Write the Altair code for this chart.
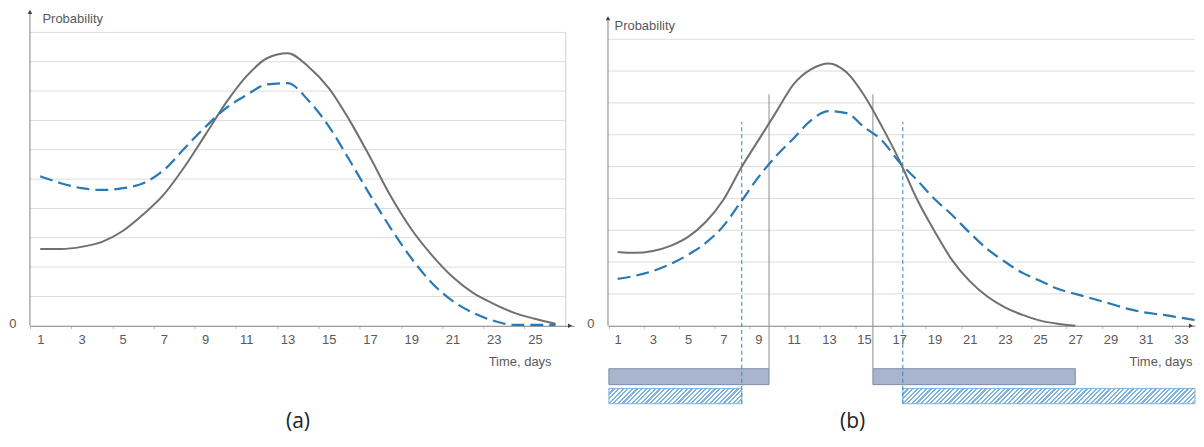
import altair as alt
import pandas as pd

# ---------------- data ----------------
days_a = list(range(1, 27))
gray_a = [2.62, 2.62, 2.69, 2.86, 3.23, 3.80, 4.48, 5.42, 6.50, 7.59, 8.50, 9.12, 9.29,
          8.84, 8.10, 7.01, 5.75, 4.42, 3.30, 2.41, 1.67, 1.12, 0.75, 0.44, 0.24, 0.07]
blue_a = [5.10, 4.86, 4.69, 4.63, 4.69, 4.86, 5.31, 6.05, 6.77, 7.41, 7.86, 8.23, 8.27,
          7.69, 6.80, 5.65, 4.46, 3.33, 2.31, 1.46, 0.85, 0.44, 0.17, 0.03, 0.03, 0.03]

days_b_gray = list(range(1, 28))
gray_b = [2.32, 2.29, 2.35, 2.51, 2.79, 3.26, 3.95, 4.95, 5.83, 6.71, 7.59, 8.06, 8.24,
          7.96, 7.24, 6.27, 5.20, 3.98, 2.97, 2.06, 1.40, 0.92, 0.58, 0.34, 0.16, 0.06, 0.0]
days_b_blue = list(range(1, 35))
blue_b = [1.47, 1.57, 1.72, 1.94, 2.23, 2.60, 3.13, 3.89, 4.67, 5.33, 5.89, 6.46, 6.74,
          6.68, 6.24, 5.83, 5.14, 4.58, 3.98, 3.48, 2.92, 2.41, 2.01, 1.66, 1.41, 1.16,
          1.00, 0.85, 0.69, 0.53, 0.41, 0.34, 0.25, 0.16]

grid_a = list(range(1, 11))
grid_b = list(range(1, 10))
labels_a = list(range(1, 26, 2))
labels_b = list(range(1, 34, 2))

gray_marks = [9.6, 15.5]
gray_mark_top = 7.27
blue_marks = [8.05, 17.2]
blue_mark_top = 6.4

bar_gray_start = [0.5, 15.5]
bar_gray_end = [9.6, 27.0]
bar_gray_y = [-1.35, -1.85]
bar_hatch_start = [0.5, 17.2]
bar_hatch_end = [8.05, 34.0]
bar_hatch_y = [-1.97, -2.45]

# ---------------- style / layout ----------------
H = 397
A_W, A_X, A_Y = 545, [0.5, 26.9], [-2.69, 10.82]
B_W, B_X, B_Y = 588, [0.45, 33.8], [-2.48, 9.97]
GRAY = "#707070"
BLUE = "#2a78b4"
AXIS = "#7f7f7f"
GRID = "#dcdcdc"
TXT = "#595959"
FONT = "Liberation Sans"


def hatch_fill(W, Hh, period=4.6, line=2.2, color="#7fb3e0"):
    r = Hh / W
    s = (1 + r) / (1 + r * r)
    tot = W + Hh
    dt = period / tot
    lt = line / tot
    stops = []
    k = 0
    while k * dt < 1:
        t0 = k * dt
        t1 = min(t0 + lt, 1.0)
        t2 = min((k + 1) * dt, 1.0)
        stops += [{"offset": t0, "color": color}, {"offset": t1, "color": color},
                  {"offset": t1, "color": "#ffffff"}, {"offset": t2, "color": "#ffffff"}]
        k += 1
    return alt.LinearGradient(gradient="linear", stops=stops, x1=0, y1=0, x2=s, y2=s * r)


def panel(W, xdom, ydom, grid, grid_right, labels, ytop, title_x, ptitle, pdx,
          prob_x, prob_y, curves, border=None, extras=()):
    ppd = W / (xdom[1] - xdom[0])
    half = ppd / 2
    zero_from_top = H * ydom[1] / (ydom[1] - ydom[0])
    off = -(H - zero_from_top)
    xs = alt.Scale(domain=xdom, nice=False, zero=False)
    ys = alt.Scale(domain=ydom, nice=False, zero=False)
    xaxis = alt.Axis(values=labels, title="Time, days", titleX=title_x, titleY=36,
                     titleAlign="right", titleBaseline="middle", titleFont=FONT,
                     titleFontSize=13, titleFontWeight="normal", titleColor=TXT,
                     domainColor=AXIS, domainWidth=1, tickColor="#c0c0c0", tickSize=3,
                     tickOffset=-half, labelOffset=half, labelPadding=5,
                     labelFont=FONT, labelFontSize=13, labelColor=TXT,
                     labelOverlap=False, labelFlush=False, grid=False, offset=off)
    yaxis = alt.Axis(values=[0], title="Probability", titleAngle=0, titleX=prob_x,
                     titleY=prob_y, titleAlign="left", titleBaseline="middle",
                     titleFont=FONT, titleFontSize=13, titleFontWeight="normal",
                     titleColor=TXT, domain=False, ticks=False, grid=False,
                     labelPadding=14, labelFont=FONT, labelFontSize=13,
                     labelColor=TXT, labelOffset=-2)

    def X(f):
        return alt.X(f, type="quantitative", scale=xs, axis=xaxis)

    def Y(f):
        return alt.Y(f, type="quantitative", scale=ys, axis=yaxis)

    layers = []
    gdf = pd.DataFrame({"level": grid, "x0": xdom[0], "x1": grid_right})
    layers.append(alt.Chart(gdf).mark_rule(color=GRID, strokeWidth=1).encode(
        x=X("x0"), x2="x1", y=Y("level")))
    if border is not None:
        bdf = pd.DataFrame({"x": [border], "y0": [0], "y1": [max(grid)]})
        layers.append(alt.Chart(bdf).mark_rule(color="#d0d0d0", strokeWidth=1).encode(
            x=X("x"), y=Y("y0"), y2="y1"))
    layers.extend(e(X, Y, ppd) for e in extras)
    for days, vals, color, dash in curves:
        cdf = pd.DataFrame({"day": days, "p": vals})
        mk = dict(color=color, strokeWidth=2.2 if dash else 2, interpolate="monotone",
                  clip=True)
        if dash:
            mk["strokeDash"] = [13, 6]
        layers.append(alt.Chart(cdf).mark_line(**mk).encode(x=X("day"), y=Y("p")))
    # y axis line with arrow
    adf = pd.DataFrame({"x": [xdom[0]], "y0": [0], "y1": [ytop]})
    layers.append(alt.Chart(adf).mark_rule(color=AXIS, strokeWidth=1).encode(
        x=X("x"), y=Y("y0"), y2="y1"))
    layers.append(alt.Chart(adf).mark_point(shape="triangle-up", filled=True, size=22,
                                            color="#404040", opacity=1).encode(
        x=X("x"), y=Y("y1")))
    xa = pd.DataFrame({"x": [xdom[1] - 4 / ppd], "y": [0]})
    layers.append(alt.Chart(xa).mark_point(shape="triangle-right", filled=True, size=22,
                                           color="#404040", opacity=1).encode(
        x=X("x"), y=Y("y")))
    return alt.layer(*layers).properties(
        width=W, height=H,
        title=alt.TitleParams(ptitle, orient="bottom", anchor="middle", fontSize=21,
                              font="Open Sans", fontWeight="normal", color="#222222",
                              offset=6, dx=pdx))


def b_extras():
    def bars_gray(X, Y, ppd):
        df = pd.DataFrame({"s": bar_gray_start, "e": bar_gray_end,
                           "y0": bar_gray_y[0], "y1": bar_gray_y[1]})
        return alt.Chart(df).mark_rect(fill="#a8b5cc", stroke="#7f8da6",
                                       strokeWidth=1).encode(
            x=X("s"), x2="e", y=Y("y0"), y2="y1")

    def make_hatch(i):
        def f(X, Y, ppd):
            e = min(bar_hatch_end[i], B_X[1])
            df = pd.DataFrame({"s": [bar_hatch_start[i]], "e": [e],
                               "y0": [bar_hatch_y[0]], "y1": [bar_hatch_y[1]]})
            W = (e - bar_hatch_start[i]) * ppd
            Hh = (bar_hatch_y[0] - bar_hatch_y[1]) * H / (B_Y[1] - B_Y[0])
            return alt.Chart(df).mark_rect(fill=hatch_fill(W, Hh), stroke="#7db3e0",
                                           strokeWidth=1).encode(
                x=X("s"), x2="e", y=Y("y0"), y2="y1")
        return f

    def vgray(X, Y, ppd):
        df = pd.DataFrame({"x": gray_marks, "y0": bar_gray_y[0], "y1": gray_mark_top})
        return alt.Chart(df).mark_rule(color="#8c8c8c", strokeWidth=1).encode(
            x=X("x"), y=Y("y0"), y2="y1")

    def vblue(X, Y, ppd):
        df = pd.DataFrame({"x": blue_marks, "y0": bar_hatch_y[1], "y1": blue_mark_top})
        return alt.Chart(df).mark_rule(color="#2e86c1", strokeWidth=1,
                                       strokeDash=[4, 3]).encode(
            x=X("x"), y=Y("y0"), y2="y1")

    return (bars_gray, make_hatch(0), make_hatch(1), vgray, vblue)


chart_a = panel(A_W, A_X, A_Y, grid_a, 26.5, labels_a, 10.7, 522, "(a)", -4, 12, 10,
                [(days_a, gray_a, GRAY, False), (days_a, blue_a, BLUE, True)],
                border=26.5)
chart_b = panel(B_W, B_X, B_Y, grid_b, B_X[1], labels_b, 9.66, 585, "(b)", -49, 6, 17,
                [(days_b_gray, gray_b, GRAY, False), (days_b_blue, blue_b, BLUE, True)],
                extras=b_extras())

chart = alt.hconcat(chart_a, chart_b, spacing=12).properties(
    padding={"left": 0, "top": 0, "right": 0, "bottom": 3}, background="white"
).configure_view(stroke=None)

chart.save("out.html", embed_options={"renderer": "svg", "actions": False})
